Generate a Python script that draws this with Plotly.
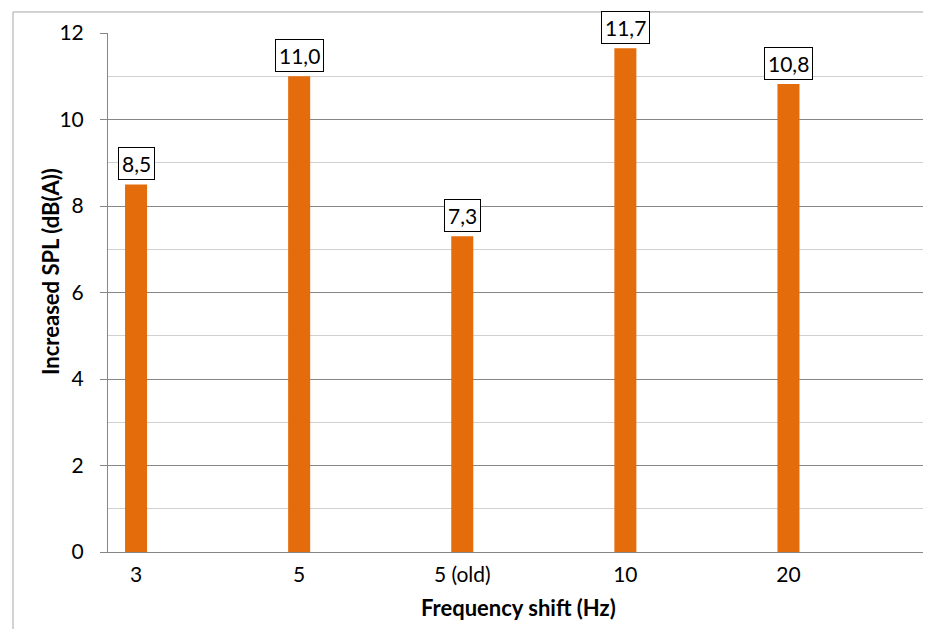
import plotly.graph_objects as go

categories = ['3', '5', '5 (old)', '10', '20']
spl_increase = [8.5, 11.0, 7.3, 11.65, 10.82]
value_labels = ['8,5', '11,0', '7,3', '11,7', '10,8']

FONT = 'Lato'
x_pos = list(range(len(categories)))

fig = go.Figure()
fig.add_trace(go.Bar(
    x=x_pos,
    y=spl_increase,
    width=0.135,
    marker=dict(color='#e46c0a', line=dict(width=0)),
    showlegend=False,
))

# boxed value labels above bars
for xi, yi, lab in zip(x_pos, spl_increase, value_labels):
    fig.add_annotation(
        x=xi, y=yi, text=lab, showarrow=False, yanchor='bottom', yshift=4,
        font=dict(family=FONT, size=21, color='black'),
        bgcolor='white', bordercolor='black', borderwidth=1, borderpad=3,
    )

# axis titles
fig.add_annotation(
    x=-0.0704, y=0.5414, xref='paper', yref='paper', text='<b>Increased SPL (dB(A))</b>',
    xanchor='center', yanchor='middle',
    textangle=-90, showarrow=False, font=dict(family=FONT, size=22, color='black'),
)
fig.add_annotation(
    x=0.4976, y=-0.106, xref='paper', yref='paper', text='<b>Frequency shift (Hz)</b>',
    xanchor='center', yanchor='middle',
    showarrow=False, font=dict(family=FONT, size=22, color='black'),
)

# outer chart frame
fig.add_shape(type='rect', xref='paper', yref='paper',
              x0=-0.1153, x1=1.2, y0=-0.3, y1=1.0405,
              line=dict(color='#a6a6a6', width=1), layer='below')

fig.update_layout(
    width=931, height=629,
    margin=dict(l=100, r=7, t=25, b=85),
    paper_bgcolor='white', plot_bgcolor='white',
    font=dict(family=FONT, size=21, color='black'),
    xaxis=dict(
        range=[-0.172, 4.88],
        tickvals=x_pos, ticktext=categories,
        showgrid=False, zeroline=False,
        showline=True, linecolor='#868686', linewidth=1,
        ticks='', ticklen=0, ticklabelstandoff=4,
    ),
    yaxis=dict(
        range=[0, 12], dtick=2,
        showgrid=True, gridcolor='#868686', gridwidth=1,
        minor=dict(dtick=1, showgrid=True, gridcolor='#d0d0d0'),
        zeroline=False,
        showline=True, linecolor='#868686', linewidth=1,
        ticks='outside', ticklen=7, tickcolor='#868686',
        ticklabelstandoff=12,
    ),
)

fig.write_html('out.html')
